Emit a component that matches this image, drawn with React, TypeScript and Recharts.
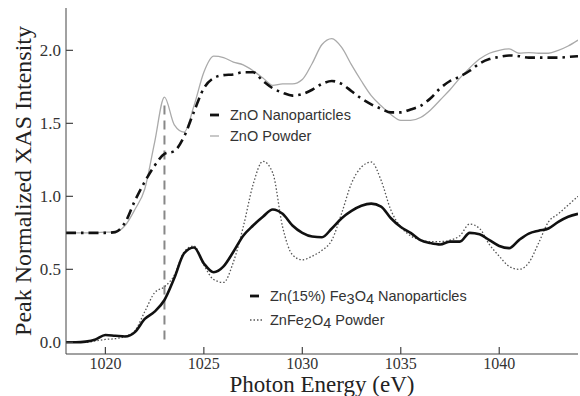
import { ComposedChart, Line, XAxis, YAxis, ReferenceLine, Label } from 'recharts';

// photon energy grid (eV)
const energy = [
  1018, 1018.5, 1019, 1019.5, 1020, 1020.5, 1021, 1021.5, 1022, 1022.5,
  1023, 1023.5, 1024, 1024.5, 1025, 1025.5, 1026, 1026.5, 1027, 1027.5,
  1028, 1028.5, 1029, 1029.5, 1030, 1030.5, 1031, 1031.5, 1032, 1032.5,
  1033, 1033.5, 1034, 1034.5, 1035, 1035.5, 1036, 1036.5, 1037, 1037.5,
  1038, 1038.5, 1039, 1039.5, 1040, 1040.5, 1041, 1041.5, 1042, 1042.5,
  1043, 1043.5, 1044,
];

const znoNano = [
  0.75, 0.75, 0.75, 0.75, 0.75, 0.755, 0.82, 0.97, 1.1, 1.21,
  1.29, 1.31, 1.41, 1.58, 1.74, 1.81, 1.83, 1.835, 1.85, 1.85,
  1.79, 1.74, 1.71, 1.69, 1.7, 1.73, 1.77, 1.79, 1.77, 1.72,
  1.67, 1.63, 1.6, 1.575, 1.575, 1.595, 1.62, 1.67, 1.74, 1.79,
  1.82, 1.86, 1.91, 1.94, 1.955, 1.965, 1.96, 1.95, 1.95, 1.95,
  1.95, 1.955, 1.96,
];

const znoPowder = [
  0.75, 0.75, 0.75, 0.75, 0.755, 0.755, 0.8, 0.91, 1.05, 1.37,
  1.68, 1.49, 1.44, 1.62, 1.85, 1.96, 1.95, 1.92, 1.9, 1.86,
  1.81, 1.76, 1.77, 1.77, 1.8, 1.91, 2.04, 2.08, 2.02, 1.9,
  1.79, 1.69, 1.62, 1.56, 1.52, 1.52, 1.54, 1.59, 1.66, 1.73,
  1.81, 1.88, 1.94, 1.98, 2.0, 2.01, 1.98, 1.985, 1.98, 1.98,
  2.0, 2.03, 2.07,
];

const znFe3o4Nano = [
  0.0, 0.0, 0.005, 0.02, 0.05, 0.045, 0.04, 0.07, 0.16, 0.21,
  0.29, 0.44, 0.61, 0.65, 0.54, 0.48, 0.52, 0.62, 0.73, 0.8,
  0.86, 0.91, 0.88, 0.8, 0.75, 0.725, 0.72, 0.78, 0.85, 0.9,
  0.935, 0.95, 0.93, 0.85, 0.79, 0.75, 0.7, 0.68, 0.67, 0.69,
  0.69, 0.75, 0.74, 0.7, 0.66, 0.645, 0.7, 0.745, 0.765, 0.78,
  0.825, 0.86, 0.88,
];

const znFe2o4Powder = [
  0.0, 0.0, 0.0, 0.01, 0.02, 0.025, 0.04, 0.08, 0.21, 0.34,
  0.38, 0.46, 0.62, 0.66, 0.53, 0.43, 0.41, 0.55, 0.79, 1.08,
  1.24, 1.16, 0.79, 0.6, 0.565, 0.59, 0.63, 0.7, 0.885, 1.09,
  1.2, 1.235, 1.11, 0.905, 0.79, 0.73, 0.7, 0.69, 0.69, 0.7,
  0.73, 0.81, 0.78, 0.67, 0.59, 0.52, 0.5, 0.545, 0.68, 0.825,
  0.88, 0.94, 1.0,
];

const xMajorTicks = [1020, 1025, 1030, 1035, 1040];
const xMinorTicks = [
  1019, 1021, 1022, 1023, 1024, 1026, 1027, 1028, 1029, 1031,
  1032, 1033, 1034, 1036, 1037, 1038, 1039, 1041, 1042, 1043,
];
const yMajorTicks = [0, 0.5, 1.0, 1.5, 2.0];
const yMinorTicks = [
  0.1, 0.2, 0.3, 0.4, 0.6, 0.7, 0.8, 0.9, 1.1, 1.2,
  1.3, 1.4, 1.6, 1.7, 1.8, 1.9, 2.1, 2.2,
];
const edgeEnergy = 1023;
const edgeMarkerRange = [0.02, 1.63];

const data = energy.map((e, i) => ({
  e,
  znoNano: znoNano[i],
  znoPowder: znoPowder[i],
  znFe3o4Nano: znFe3o4Nano[i],
  znFe2o4Powder: znFe2o4Powder[i],
}));

const X_DOMAIN = [1018, 1044];
const Y_DOMAIN = [-0.08, 2.29];
const AXIS = '#444';
const SERIF = '"Liberation Serif", "Times New Roman", serif';
const SANS = '"Liberation Sans", Arial, sans-serif';

function bottomLabel(props: any) {
  return (
    <text x={props.x} y={Number(props.y) + 15} textAnchor="middle" fontSize={16} fontFamily={SERIF} fill="#333">
      {props.payload.value}
    </text>
  );
}

function leftLabel(props: any) {
  return (
    <text x={Number(props.x) - 5} y={Number(props.y) + 6} textAnchor="end" fontSize={17} fontFamily={SERIF} fill="#333">
      {props.payload.value.toFixed(1)}
    </text>
  );
}

const legendText: any = {
  position: 'absolute',
  fontFamily: SANS,
  fontSize: 14.5,
  color: '#333',
  lineHeight: '18px',
  whiteSpace: 'nowrap',
};

const sub: any = { position: 'relative', top: 3 };

function LegendRow(props: { left: number; top: number; dash?: string; color: string; width: number; children: any }) {
  return (
    <div style={{ ...legendText, left: props.left, top: props.top - 9 }}>
      <svg width={16} height={18} style={{ verticalAlign: 'top', marginRight: 4 }}>
        <line x1={0} y1={9} x2={props.dash ? 14 : 9} y2={9} stroke={props.color} strokeWidth={props.width} strokeDasharray={props.dash} />
      </svg>
      {props.children}
    </div>
  );
}

const tickLineStyle = { stroke: AXIS, strokeWidth: 1.2 };

export default function App() {
  return (
    <div style={{ position: 'absolute', left: 0, top: 0, width: 580, height: 396, background: '#fff' }}>
      <ComposedChart width={580} height={396} data={data} margin={{ top: 8, right: 2, left: 0, bottom: 0 }}>
        {/* minor ticks first so they sit on the frame */}
        <XAxis xAxisId="xMinor" type="number" domain={X_DOMAIN} ticks={xMinorTicks} interval={0} allowDataOverflow height={0} tickSize={-4} tick={false} tickLine={tickLineStyle} axisLine={false} />
        <XAxis
          xAxisId="x"
          dataKey="e"
          type="number"
          domain={X_DOMAIN}
          ticks={xMajorTicks}
          interval={0}
          allowDataOverflow
          height={42}
          tickSize={-7}
          tickMargin={7}
          tickLine={tickLineStyle}
          axisLine={{ stroke: AXIS }}
          tick={bottomLabel}
        >
          <Label value="Photon Energy (eV)" position="insideBottom" offset={4} fontSize={23} fontFamily={SERIF} fill="#222" />
        </XAxis>
        <XAxis xAxisId="topMinor" orientation="top" type="number" domain={X_DOMAIN} ticks={xMinorTicks} interval={0} allowDataOverflow height={0} tickSize={-4} tick={false} tickLine={tickLineStyle} axisLine={false} />
        <XAxis xAxisId="top" orientation="top" type="number" domain={X_DOMAIN} ticks={xMajorTicks} interval={0} allowDataOverflow height={0} tickSize={-7} tick={false} tickLine={tickLineStyle} axisLine={{ stroke: AXIS }} />

        <YAxis yAxisId="yMinor" type="number" domain={Y_DOMAIN} ticks={yMinorTicks} interval={0} allowDataOverflow width={0} tickSize={-4} tick={false} tickLine={tickLineStyle} axisLine={false} />
        <YAxis
          yAxisId="y"
          type="number"
          domain={Y_DOMAIN}
          ticks={yMajorTicks}
          interval={0}
          allowDataOverflow
          width={66}
          tickSize={-7}
          tickMargin={7}
          tickLine={tickLineStyle}
          axisLine={{ stroke: AXIS }}
          tick={leftLabel}
        >
          <Label
            value="Peak Normalized XAS Intensity"
            position="insideLeft"
            angle={-90}
            offset={22}
            fontSize={24}
            fontFamily={SERIF}
            fill="#222"
            style={{ textAnchor: 'middle' }}
          />
        </YAxis>
        <YAxis yAxisId="rightMinor" orientation="right" type="number" domain={Y_DOMAIN} ticks={yMinorTicks} interval={0} allowDataOverflow width={0} tickSize={-4} tick={false} tickLine={tickLineStyle} axisLine={false} />
        <YAxis yAxisId="right" orientation="right" type="number" domain={Y_DOMAIN} ticks={yMajorTicks} interval={0} allowDataOverflow width={0} tickSize={-7} tick={false} tickLine={tickLineStyle} axisLine={{ stroke: AXIS }} />

        <ReferenceLine
          xAxisId="x"
          yAxisId="y"
          segment={[
            { x: edgeEnergy, y: edgeMarkerRange[0] },
            { x: edgeEnergy, y: edgeMarkerRange[1] },
          ]}
          stroke="#888"
          strokeWidth={2}
          strokeDasharray="9 6"
        />
        <Line xAxisId="x" yAxisId="y" type="monotone" dataKey="znoPowder" stroke="#aaa" strokeWidth={1.3} dot={false} isAnimationActive={false} />
        <Line xAxisId="x" yAxisId="y" type="monotone" dataKey="znFe2o4Powder" stroke="#555" strokeWidth={1.3} strokeDasharray="1.5 2" dot={false} isAnimationActive={false} />
        <Line xAxisId="x" yAxisId="y" type="monotone" dataKey="znoNano" stroke="#111" strokeWidth={2.6} strokeDasharray="10 5 2.5 5" dot={false} isAnimationActive={false} />
        <Line xAxisId="x" yAxisId="y" type="monotone" dataKey="znFe3o4Nano" stroke="#111" strokeWidth={2.6} dot={false} isAnimationActive={false} />
      </ComposedChart>
      <LegendRow left={210} top={115} color="#111" width={2.8}>ZnO Nanoparticles</LegendRow>
      <LegendRow left={210} top={136} color="#aaa" width={1.3}>ZnO Powder</LegendRow>
      <LegendRow left={250} top={296} color="#111" width={2.8}>
        Zn(15%) Fe<span style={sub}>3</span>O<span style={sub}>4</span> Nanoparticles
      </LegendRow>
      <LegendRow left={250} top={320} color="#555" width={1.3} dash="1.5 2">
        ZnFe<span style={sub}>2</span>O<span style={sub}>4</span> Powder
      </LegendRow>
    </div>
  );
}
